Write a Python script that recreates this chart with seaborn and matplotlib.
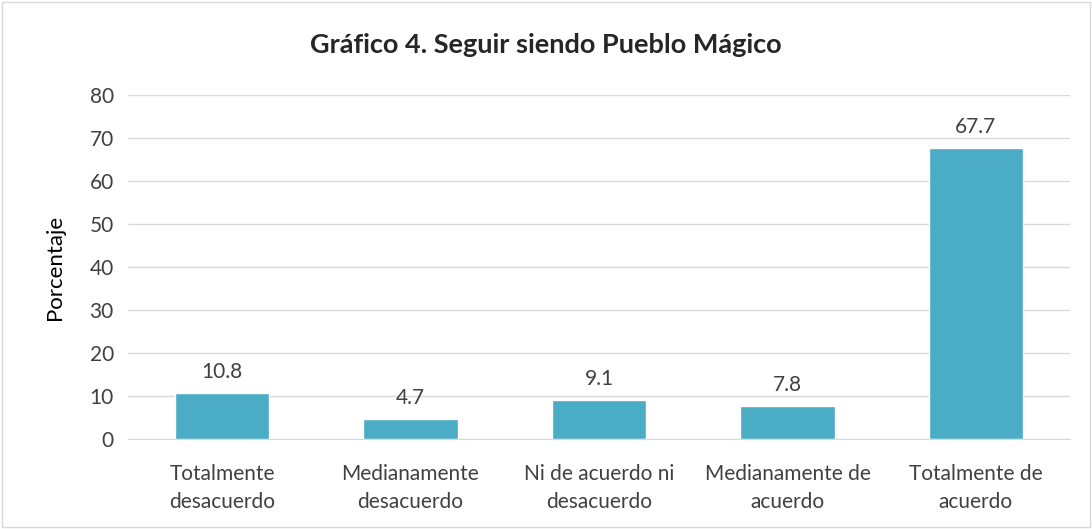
import matplotlib
matplotlib.use("Agg")
import matplotlib.pyplot as plt
import seaborn as sns
import pandas as pd

sns.set_style("whitegrid")
plt.rcParams['font.family'] = ['Lato', 'DejaVu Sans']

# --------------------------------
# Data
# --------------------------------
categorias = ["Totalmente\ndesacuerdo", "Medianamente\ndesacuerdo",
              "Ni de acuerdo ni\ndesacuerdo", "Medianamente de\nacuerdo",
              "Totalmente de\nacuerdo"]
porcentajes = [10.8, 4.7, 9.1, 7.8, 67.7]
yticks = [0, 10, 20, 30, 40, 50, 60, 70, 80]

df = pd.DataFrame({"Categoria": categorias, "Porcentaje": porcentajes})

# --------------------------------
# Plot
# --------------------------------
fig = plt.figure(figsize=(10.92, 5.29), dpi=100)
ax = fig.add_axes([0.117, 0.170, 0.863, 0.650])

sns.barplot(data=df, x="Categoria", y="Porcentaje", color="#4BACC6",
            width=0.5, saturation=1, ax=ax)

for i, v in enumerate(porcentajes):
    ax.text(i, v + 2.5, f"{v}", ha="center", va="bottom", fontsize=15, color="#404040")

ax.set_ylim(0, 80)
ax.set_yticks(yticks)
ax.set_xlim(-0.5, 4.5)
ax.tick_params(axis="both", labelsize=15, colors="#404040", length=0)
ax.tick_params(axis="x", pad=18)
ax.tick_params(axis="y", pad=10)
for lbl in ax.get_xticklabels():
    lbl.set_linespacing(1.5)
ax.set_xlabel("")
ax.set_ylabel("Porcentaje", fontsize=16, color="black", labelpad=18)
ax.grid(axis="y", color="#D9D9D9", linewidth=1)
ax.grid(axis="x", visible=False)
for s in ["top", "right", "left"]:
    ax.spines[s].set_visible(False)
ax.spines["bottom"].set_color("#D9D9D9")

fig.text(0.5, 0.915, "Gráfico 4. Seguir siendo Pueblo Mágico", ha="center",
         va="center", fontsize=19.5, fontweight="bold", color="#262626")

# light border around the chart
fig.patches.append(plt.Rectangle((0.002, 0.003), 0.996, 0.994, transform=fig.transFigure,
                                 fill=False, edgecolor="#D9D9D9", linewidth=1))

fig.savefig("out.png", dpi=100)
